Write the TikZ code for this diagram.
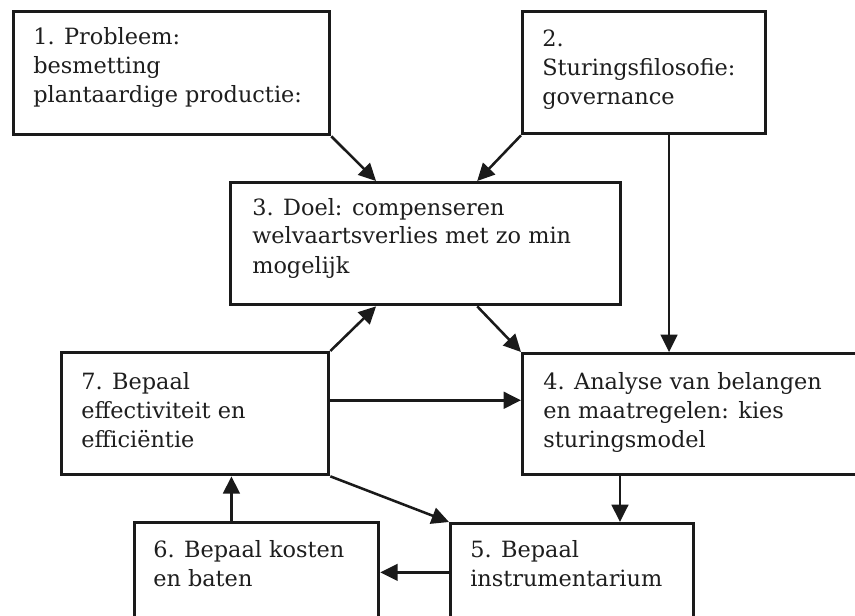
\documentclass[tikz,border=0pt]{standalone}
\usepackage{fontspec}
\setmainfont{DejaVu Serif}
\usetikzlibrary{arrows.meta,calc}
\definecolor{ink}{HTML}{1A1A1A}
\definecolor{txtc}{HTML}{1E1E1E}
\begin{document}
\begin{tikzpicture}[x=0.75pt,y=-0.75pt,
  boxnode/.style 2 args={draw=ink, line width=2.5pt, rectangle, inner sep=0pt,
    anchor=north west, minimum width=#1*0.75pt, minimum height=#2*0.75pt},
  txt/.style={anchor=base west, align=left, inner sep=0pt,
    font=\fontsize{16.8}{21.75}\selectfont, text=txtc},
  conn/.style={draw=ink, line width=1.9pt, -{Triangle[length=13pt,width=12.5pt]}}]
\useasboundingbox (0,0) rectangle (855,616);
\clip (0,0) rectangle (855,616);
\fill[white] (0,0) rectangle (855,616);

% boxes
\node[boxnode={316}{123}] (b1) at (12,10) {};
\node[boxnode={243}{122}] (b2) at (521,10) {};
\node[boxnode={390}{122}] (b3) at (229,181) {};
\node[boxnode={267}{122}] (b7) at (60,351) {};
\node[boxnode={354}{121}] (b4) at (521,352) {};
\node[boxnode={243}{118}] (b5) at (449,522) {};
\node[boxnode={244}{119}] (b6) at (133,521) {};

% texts (anchored at the baseline of their last line)
\node[txt] (t1) at (33,103) {1. Probleem:\\besmetting\\plantaardige productie:};
\node[txt] (t2) at (542,105) {2.\\Sturingsfilosofie:\\governance};
\node[txt] (t3) at (252,273) {3. Doel: compenseren\\welvaartsverlies met zo min\\mogelijk};
\node[txt] (t7) at (81,447) {7. Bepaal\\effectiviteit en\\efficiëntie};
\node[txt] (t4) at (543,447) {4. Analyse van belangen\\en maatregelen: kies\\sturingsmodel};
\node[txt] (t6) at (153,586) {6. Bepaal kosten\\en baten};
\node[txt] (t5) at (470,586) {5. Bepaal\\instrumentarium};

% connector points
\coordinate (b3t1) at ($(b3.north west)!0.374!(b3.north east)$);
\coordinate (b3t2) at ($(b3.north west)!0.631!(b3.north east)$);
\coordinate (b3b1) at ($(b3.south west)!0.374!(b3.south east)$);
\coordinate (b3b2) at ($(b3.south west)!0.631!(b3.south east)$);
\coordinate (b2s) at ($(b2.south west)!0.601!(b2.south east)$);
\coordinate (b7e) at ($(b7.north east)!0.393!(b7.south east)$);
\coordinate (b4s) at ($(b4.south west)!0.277!(b4.south east)$);
\coordinate (b6n) at ($(b6.north west)!0.398!(b6.north east)$);
\coordinate (b5w) at ($(b5.north west)!0.415!(b5.south west)$);

% connectors
\draw[conn] (b1.south east) -- (b3t1);
\draw[conn] (b2.south west) -- (b3t2);
\draw[conn] (b7.north east) -- (b3b1);
\draw[conn] (b3b2) -- (b4.north west);
\draw[conn] (b2s) -- (b2s |- b4.north);
\draw[conn] (b7e) -- (b7e -| b4.west);
\draw[conn] (b4s) -- (b4s |- b5.north);
\draw[conn] (b7.south east) -- (b5.north west);
\draw[conn] (b6n) -- (b6n |- b7.south);
\draw[conn] (b5w) -- (b5w -| b6.east);
\end{tikzpicture}
\end{document}
